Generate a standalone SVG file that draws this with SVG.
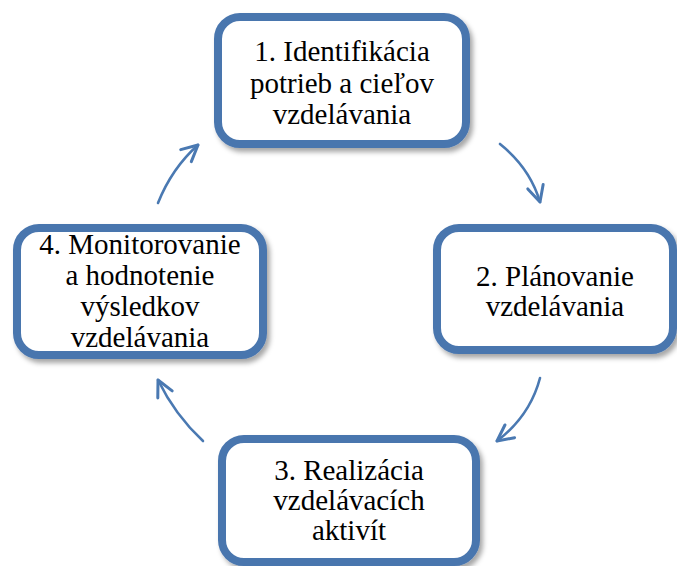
<svg xmlns="http://www.w3.org/2000/svg" width="677" height="566" viewBox="0 0 677 566">
<defs>
<filter id="sh" x="-10%" y="-10%" width="125%" height="130%">
<feDropShadow dx="3" dy="4" stdDeviation="2.5" flood-color="#000" flood-opacity="0.35"/>
</filter>
<marker id="ah" viewBox="0 0 20 20" refX="18" refY="10" markerWidth="20" markerHeight="20" markerUnits="userSpaceOnUse" orient="auto">
<path d="M2,2 L18,10 L2,18" fill="none" stroke="#4A79B2" stroke-width="3" stroke-linecap="round" stroke-linejoin="round"/>
</marker>
</defs>
<style>
.box{fill:#fff;stroke:#4A76AE;stroke-width:8;filter:url(#sh)}
.t{font-family:"Liberation Serif","DejaVu Serif",serif;font-size:29px;fill:#000;text-anchor:middle}
.c{fill:none;stroke:#4A79B2;stroke-width:2.6;stroke-linecap:round;marker-end:url(#ah)}
</style>
<g id="connectors">
<path class="c" d="M500,144 Q530,168 540,202"/>
<path class="c" d="M540,378 Q530,416 497,441"/>
<path class="c" d="M203,441 Q175,415 158,380"/>
<path class="c" d="M158,203 Q172,168 198,145"/>
</g>
<g id="node1">
<rect class="box" x="218" y="17" width="248" height="127" rx="22"/>
<text class="t" x="342" y="61">1. Identifikácia</text>
<text class="t" x="342" y="93">potrieb a cieľov</text>
<text class="t" x="342" y="124">vzdelávania</text>
</g>
<g id="node2">
<rect class="box" x="437" y="228" width="236" height="122" rx="22"/>
<text class="t" x="555" y="286">2. Plánovanie</text>
<text class="t" x="555" y="316">vzdelávania</text>
</g>
<g id="node3">
<rect class="box" x="222" y="439" width="254" height="123" rx="22"/>
<text class="t" x="349" y="480">3. Realizácia</text>
<text class="t" x="349" y="510">vzdelávacích</text>
<text class="t" x="349" y="540">aktivít</text>
</g>
<g id="node4">
<rect class="box" x="17" y="228" width="246" height="127" rx="22"/>
<text class="t" x="140" y="254">4. Monitorovanie</text>
<text class="t" x="140" y="285">a hodnotenie</text>
<text class="t" x="140" y="316">výsledkov</text>
<text class="t" x="140" y="347">vzdelávania</text>
</g>
</svg>
